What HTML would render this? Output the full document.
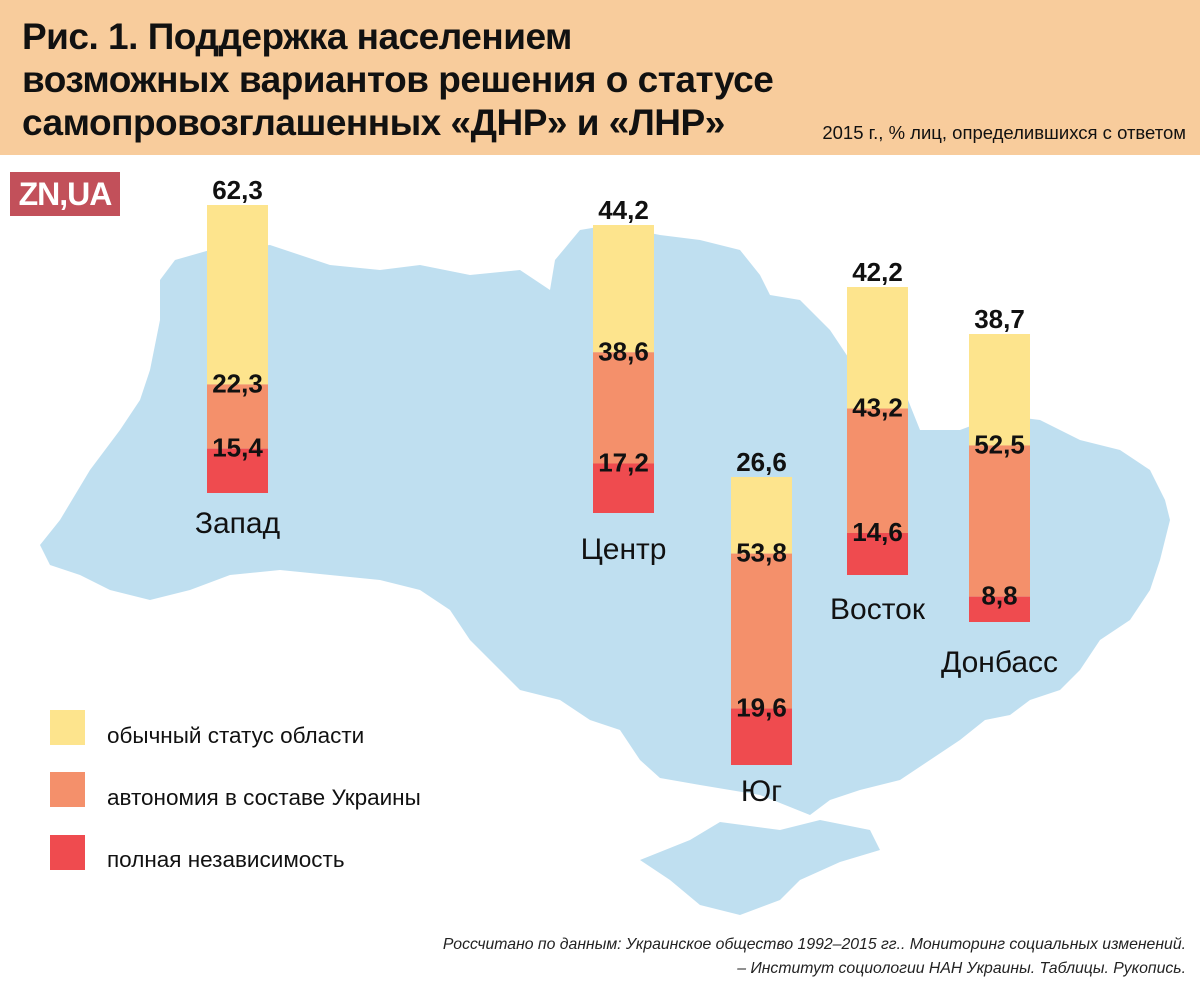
<!DOCTYPE html>
<html><head><meta charset="utf-8">
<style>
body{margin:0;width:1200px;height:988px;overflow:hidden;background:#fff;font-family:"Liberation Sans",sans-serif;}
#hdr{position:absolute;left:0;top:0;width:1200px;height:155px;background:#f8cc9c;}
.t{position:absolute;left:22px;font-size:37px;font-weight:bold;color:#111;white-space:nowrap;letter-spacing:-0.5px}
#sub{position:absolute;right:14px;top:122px;font-size:18.5px;color:#111;}
#logo{position:absolute;left:10px;top:172px;width:110px;height:44px;background:#c2505a;color:#fff;font-weight:bold;font-size:32px;line-height:44px;text-align:center;letter-spacing:-1px}
.foot{position:absolute;right:14px;font-size:15.8px;font-style:italic;color:#222;}
</style></head><body>
<div id="hdr"></div>
<div class="t" style="top:16px">Рис. 1. Поддержка населением</div>
<div class="t" style="top:59px">возможных вариантов решения о статусе</div>
<div class="t" style="top:102px">самопровозглашенных «ДНР» и «ЛНР»</div>
<div id="sub">2015 г., % лиц, определившихся с ответом</div>
<div id="logo">ZN,UA</div>
<svg id="chart" width="1200" height="988" style="position:absolute;left:0;top:0">
<g fill="#bfdff0">
<polygon points="40,545 60,520 90,470 120,430 140,400 150,370 160,320 160,280 175,260 210,250 270,245 330,265 380,270 420,265 470,275 520,270 550,290 555,260 580,230 610,225 660,235 700,240 740,250 760,275 770,295 800,300 830,330 850,360 900,380 920,430 960,430 1000,415 1040,420 1060,430 1080,440 1120,450 1150,470 1165,500 1170,520 1160,560 1150,590 1130,620 1100,640 1080,670 1060,690 1030,700 1010,715 985,720 960,740 930,760 900,780 860,790 830,800 810,815 760,795 700,785 660,778 640,760 620,730 590,720 560,700 520,690 500,670 470,640 450,610 420,590 380,580 330,575 280,570 230,575 190,590 150,600 110,590 80,575 50,565"/>
<polygon points="640,860 690,840 720,822 780,830 820,820 870,830 880,850 840,862 800,880 780,900 740,915 700,905 670,880"/>
</g>
<g id="bars"></g>
<g>
<rect x="50" y="710" width="35" height="35" fill="#fde48d"/>
<text x="107" y="743" font-size="22.5" fill="#111">обычный статус области</text>
<rect x="50" y="772" width="35" height="35" fill="#f4906b"/>
<text x="107" y="805" font-size="22.5" fill="#111">автономия в составе Украины</text>
<rect x="50" y="835" width="35" height="35" fill="#ef4b4f"/>
<text x="107" y="867" font-size="22.5" fill="#111">полная независимость</text>
</g>
</svg>
<div class="foot" style="top:936px">Россчитано по данным: Украинское общество 1992–2015 гг.. Мониторинг социальных изменений.</div>
<div class="foot" style="top:960px">– Институт социологии НАН Украины. Таблицы. Рукопись.</div>
<script>
const regions=["Запад","Центр","Юг","Восток","Донбасс"];
const normalVals=[62.3,44.2,26.6,42.2,38.7];
const autonomyVals=[22.3,38.6,53.8,43.2,52.5];
const independenceVals=[15.4,17.2,19.6,14.6,8.8];
const barX=[207,593,731,847,969];
const barTop=[205,225,477,287,334];
const labelOffset=[40,46,36,44,50];
const pxPerPct=2.88, barW=61;
const colors=["#fde48d","#f4906b","#ef4b4f"];
const ns="http://www.w3.org/2000/svg";
const g=document.getElementById("bars");
function fmt(v){return v.toFixed(1).replace(".",",");}
function mk(tag,attrs){const e=document.createElementNS(ns,tag);for(const k in attrs)e.setAttribute(k,attrs[k]);return e;}
regions.forEach((r,i)=>{
  const series=[normalVals[i],autonomyVals[i],independenceVals[i]];
  const names=["normal","autonomy","independence"];
  let y=barTop[i];
  const cx=barX[i]+barW/2;
  series.forEach((v,j)=>{
    const h=v*pxPerPct;
    const rect=mk("rect",{x:barX[i],y:y,width:barW,height:h,fill:colors[j]});
    
    
    g.appendChild(rect);
    const ty=j===0?y-6:y+8;
    const t=mk("text",{x:cx,y:ty,"text-anchor":"middle","font-size":"26","font-weight":"bold",fill:"#111"});
    t.textContent=fmt(v);
    
    
    g.appendChild(t);
    y+=h;
  });
  const lbl=mk("text",{x:cx,y:y+labelOffset[i],"text-anchor":"middle","font-size":"30",fill:"#111"});
  lbl.textContent=r;
  
  
  g.appendChild(lbl);
});
</script>
</body></html>
